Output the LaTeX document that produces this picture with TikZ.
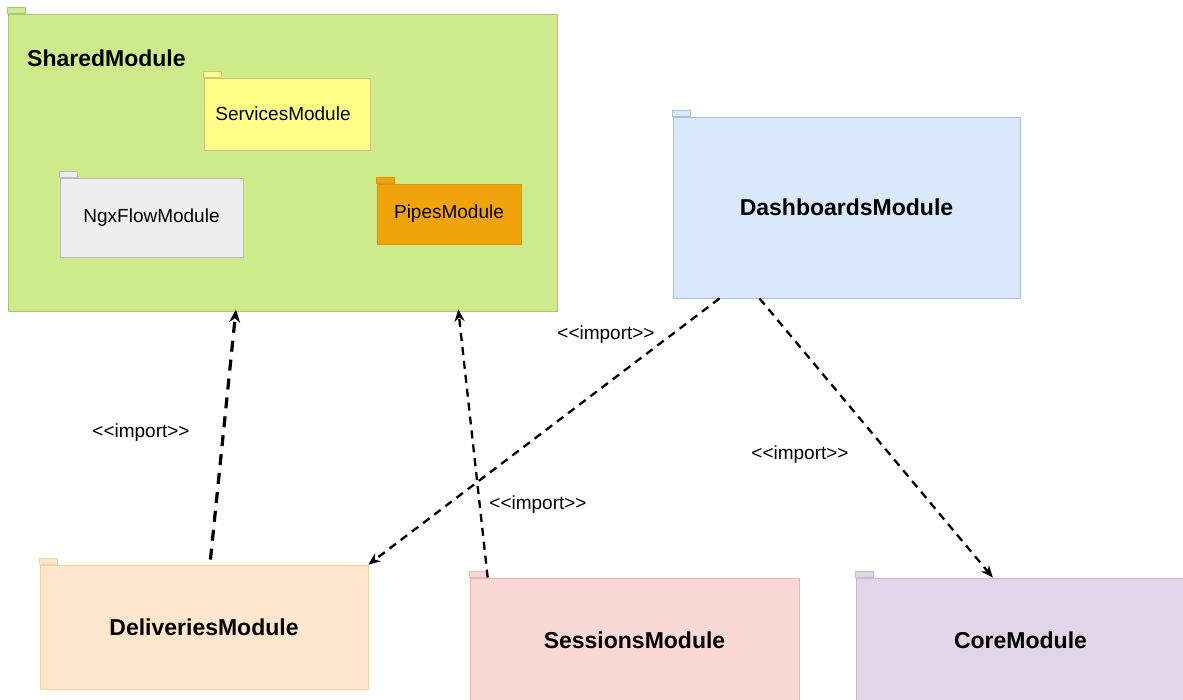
\documentclass[tikz,border=0pt]{standalone}
\usepackage{fontspec}
\newfontfamily\arial{Liberation Sans}
\usetikzlibrary{arrows.meta,calc}

\definecolor{sharedfill}{HTML}{CDEB8B}\definecolor{sharedline}{HTML}{A9C47F}
\definecolor{servfill}{HTML}{FFFF88}\definecolor{servline}{HTML}{CACA7C}
\definecolor{ngxfill}{HTML}{EEEEEE}\definecolor{ngxline}{HTML}{BDBDBD}
\definecolor{pipefill}{HTML}{F0A30A}\definecolor{pipeline}{HTML}{DB9416}
\definecolor{dashfill}{HTML}{DAE8FC}\definecolor{dashline}{HTML}{A9C0E0}
\definecolor{delfill}{HTML}{FFE6CC}\definecolor{delline}{HTML}{F0D4A8}
\definecolor{sessfill}{HTML}{FAD9D5}\definecolor{sessline}{HTML}{E8B8B2}
\definecolor{corefill}{HTML}{E1D5E7}\definecolor{coreline}{HTML}{C9B8D4}

\tikzset{
  pkgbox/.style={rectangle, inner sep=0pt, line width=0.9pt, font=\arial\fontsize{19}{22}\selectfont},
  boldpkg/.style={pkgbox, font=\arial\bfseries\fontsize{23}{27}\selectfont},
  sharedpkg/.style={fill=sharedfill, draw=sharedline},
  servpkg/.style={fill=servfill, draw=servline},
  ngxpkg/.style={fill=ngxfill, draw=ngxline},
  pipespkg/.style={fill=pipefill, draw=pipeline},
  dashpkg/.style={fill=dashfill, draw=dashline},
  delivpkg/.style={fill=delfill, draw=delline},
  sesspkg/.style={fill=sessfill, draw=sessline},
  corepkg/.style={fill=corefill, draw=coreline},
  pkgtab/.style={line width=0.9pt},
  importlbl/.style={font=\arial\fontsize{19}{22}\selectfont, inner sep=0pt},
  depthick/.style={line width=3.2pt, dash pattern=on 11pt off 8pt, -{Stealth[length=13pt,width=11pt]}},
  depthin/.style={line width=2.3pt, dash pattern=on 8pt off 6pt, -{Stealth[length=12pt,width=10pt]}},
}

\begin{document}
\begin{tikzpicture}[x=1pt,y=-1pt]
\useasboundingbox (0,0) rectangle (1183,700);
\fill[white] (0,0) rectangle (1183,700);

% outer shared package
\node[pkgbox, sharedpkg, minimum width=549pt, minimum height=297pt] (sharedm) at (282.5,162.5) {};
\draw[pkgtab, sharedpkg] (sharedm.north west) rectangle ++(18,-6);
\node[anchor=west, inner sep=0pt, font=\arial\bfseries\fontsize{23}{27}\selectfont] (sharedlbl) at (27,58) {SharedModule};

% packages nested in the shared package
\node[pkgbox, servpkg, minimum width=166pt, minimum height=72pt] (services) at (287,114) {\hspace*{-8pt}ServicesModule};
\draw[pkgtab, servpkg] (services.north west) rectangle ++(18,-6);
\node[pkgbox, ngxpkg, minimum width=183pt, minimum height=79pt] (ngxflow) at (151.5,217.5) {NgxFlowModule};
\draw[pkgtab, ngxpkg] (ngxflow.north west) rectangle ++(18,-6);
\node[pkgbox, pipespkg, minimum width=144pt, minimum height=60pt] (pipesm) at (449,214) {PipesModule};
\draw[pkgtab, pipespkg] (pipesm.north west) rectangle ++(18,-6);

% feature and core packages
\node[boldpkg, dashpkg, minimum width=347pt, minimum height=181pt] (dashm) at (846.5,207.5) {DashboardsModule};
\draw[pkgtab, dashpkg] (dashm.north west) rectangle ++(18,-6);
\node[boldpkg, delivpkg, minimum width=328pt, minimum height=124pt] (delivm) at (204,627) {DeliveriesModule};
\draw[pkgtab, delivpkg] (delivm.north west) rectangle ++(18,-6);
\node[boldpkg, sesspkg, minimum width=329pt, minimum height=124pt] (sessm) at (634.5,640) {SessionsModule};
\draw[pkgtab, sesspkg] (sessm.north west) rectangle ++(18,-6);
\node[boldpkg, corepkg, minimum width=329pt, minimum height=124pt] (corem) at (1020.5,640) {CoreModule};
\draw[pkgtab, corepkg] (corem.north west) rectangle ++(18,-6);

% import dependencies
\draw[depthick, shorten <=5pt, shorten >=-2pt]
  ($(delivm.north west)!0.518!(delivm.north east)$) -- ($(sharedm.south west)!0.415!(sharedm.south east)$);
\draw[depthin, shorten >=-2pt]
  ($(sessm.north west)!0.055!(sessm.north east)$) -- ($(sharedm.south west)!0.82!(sharedm.south east)$);
\draw[depthin]
  ($(dashm.south west)!0.135!(dashm.south east)$) -- (delivm.north east);
\draw[depthin]
  ($(dashm.south west)!0.25!(dashm.south east)$) -- ($(corem.north west)!0.416!(corem.north east)$);

% stereotype labels
\node[importlbl] (imp1) at (141,433) {<<import>>};
\node[importlbl] (imp2) at (606,335) {<<import>>};
\node[importlbl] (imp3) at (538,505) {<<import>>};
\node[importlbl] (imp4) at (800,455) {<<import>>};
\end{tikzpicture}
\end{document}
